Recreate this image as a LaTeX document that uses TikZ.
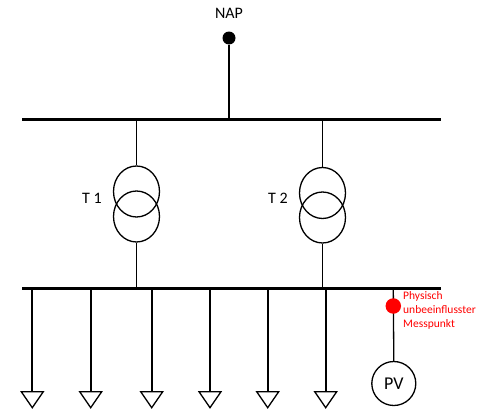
\documentclass[tikz,border=0pt]{standalone}
\usepackage{fontspec}
\setmainfont{Carlito}
\usetikzlibrary{shapes.geometric}
\begin{document}
\begin{tikzpicture}[x=1pt,y=-1pt,
  bus/.style={line width=3pt},
  wire/.style={line width=1.3pt},
  feeder/.style={line width=2pt},
  trafo/.style={draw,ellipse,minimum width=46pt,minimum height=51pt,inner sep=0pt,line width=1.3pt},
  lbl/.style={font=\fontsize{16}{19}\selectfont,inner sep=0pt},
  loadtri/.style={line width=1.3pt,line join=miter}
]
\useasboundingbox (0,0) rectangle (483,410);
% NAP
\node[lbl] (naplbl) at (229,13) {NAP};
\node[circle,fill=black,minimum size=13pt,inner sep=0pt] (nap) at (229,38) {};
% buses
\coordinate (tbL) at (22,119);
\coordinate (tbR) at (441,119);
\coordinate (lbL) at (22,288.3);
\coordinate (lbR) at (441,288.3);
\draw[bus] (tbL) -- (tbR);
\draw[bus] (lbL) -- (lbR);
\coordinate (napB) at (229,119);
\draw[wire] (nap) -- (napB);
% transformers
\node[trafo] (t1a) at (136.5,191.5) {};
\node[trafo] (t1b) at (136.5,216.5) {};
\node[trafo] (t2a) at (322.5,193) {};
\node[trafo] (t2b) at (322.5,217.5) {};
\coordinate (t1top) at (136.5,119);
\coordinate (t1bot) at (136.5,288.3);
\coordinate (t2top) at (322.5,119);
\coordinate (t2bot) at (322.5,288.3);
\draw[wire] (t1top) -- (t1a.north);
\draw[wire] (t1b.south) -- (t1bot);
\draw[wire] (t2top) -- (t2a.north);
\draw[wire] (t2b.south) -- (t2bot);
\node[lbl] (t1lbl) at (92,198) {T 1};
\node[lbl] (t2lbl) at (278,198) {T 2};
% feeders with loads
\foreach \i/\x in {1/32.3,2/90.7,3/151.7,4/210,5/267.7,6/325.7}{
  \coordinate (fs\i) at (\x,288.3);
  \coordinate (fe\i) at (\x,391.7);
  \draw[feeder] (fs\i) -- (fe\i);
  \draw[loadtri] (fe\i) ++(-11,0) -- ++(22,0) -- ++(-11,16) -- cycle;
}
% PV branch
\coordinate (pvs) at (393.3,288.3);
\node[circle,draw,line width=1.3pt,minimum size=44pt,inner sep=0pt,font=\fontsize{18}{20}\selectfont] (pv) at (393.8,383.5) {PV};
\draw[wire] (pvs) -- (pv.north);
\node[circle,fill=red,minimum size=15.5pt,inner sep=0pt] (mp) at (393.3,306) {};
\node[anchor=west,align=left,text=red,inner sep=0pt,font=\fontsize{11.5}{14}\selectfont] (mptxt) at (403,310) {Physisch\\unbeeinflusster\\Messpunkt};
\end{tikzpicture}
\end{document}
